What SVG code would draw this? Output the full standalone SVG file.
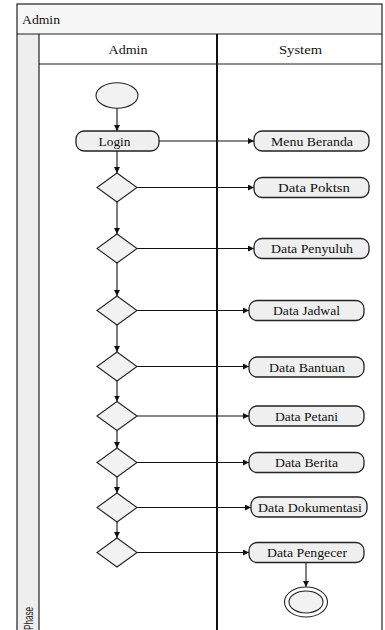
<svg xmlns="http://www.w3.org/2000/svg" width="385" height="630" viewBox="0 0 385 630">
<defs>
<style>
.frame{fill:none;stroke:#222;stroke-width:1.2}
.lbl{font-family:"Liberation Serif","Times New Roman",serif;font-size:12.5px;fill:#111;text-anchor:middle}
.hdr{font-family:"Liberation Serif","Times New Roman",serif;font-size:12px;fill:#111}
.act{fill:#efefef;stroke:#222;stroke-width:1.3}
.dec{fill:#f2f2f2;stroke:#222;stroke-width:1.1}
.con{fill:none;stroke:#111;stroke-width:1.1;marker-end:url(#ah)}
</style>
<marker id="ah" viewBox="0 0 10 10" refX="10" refY="5" markerWidth="6" markerHeight="6" markerUnits="userSpaceOnUse" orient="auto">
<path d="M0,0 L10,5 L0,10 z" fill="#111"/>
</marker>
</defs>
<rect width="385" height="630" fill="#fff"/>
<g id="pool">
<rect x="17" y="4" width="365" height="30" fill="#f7f7f7"/>
<rect x="17" y="34" width="22" height="600" fill="#eeeeee"/>
<rect x="17" y="4" width="365" height="630" class="frame"/>
<line x1="17" y1="34" x2="382" y2="34" class="frame"/>
<line x1="39" y1="34" x2="39" y2="630" class="frame"/>
<line x1="39" y1="64" x2="382" y2="64" class="frame"/>
<line x1="217" y1="34" x2="217" y2="630" stroke="#111" stroke-width="2"/>
<text x="22" y="24" class="hdr" textLength="38" lengthAdjust="spacingAndGlyphs">Admin</text>
<text x="108.5" y="53.5" class="hdr" textLength="39" lengthAdjust="spacingAndGlyphs">Admin</text>
<text x="279" y="53.5" class="hdr" textLength="43" lengthAdjust="spacingAndGlyphs">System</text>
<text transform="translate(32.5,630) rotate(-90)" font-family="Liberation Sans, sans-serif" font-size="13" fill="#222" textLength="23" lengthAdjust="spacingAndGlyphs">Phase</text>
</g>
<g id="connectors">
<line x1="117" y1="108" x2="117" y2="131" class="con"/>
<line x1="117" y1="151" x2="117" y2="173" class="con"/>
<line x1="117" y1="202" x2="117" y2="234" class="con"/>
<line x1="117" y1="263" x2="117" y2="296" class="con"/>
<line x1="117" y1="325" x2="117" y2="352" class="con"/>
<line x1="117" y1="381" x2="117" y2="401.5" class="con"/>
<line x1="117" y1="430.5" x2="117" y2="448" class="con"/>
<line x1="117" y1="477" x2="117" y2="493" class="con"/>
<line x1="117" y1="522" x2="117" y2="538" class="con"/>
<line x1="159" y1="141" x2="254" y2="141" class="con"/>
<line x1="137" y1="187.5" x2="254" y2="187.5" class="con"/>
<line x1="137" y1="248.5" x2="254" y2="248.5" class="con"/>
<line x1="137" y1="310.5" x2="249" y2="310.5" class="con"/>
<line x1="137" y1="366.5" x2="249" y2="366.5" class="con"/>
<line x1="137" y1="416" x2="249" y2="416" class="con"/>
<line x1="137" y1="462.5" x2="249" y2="462.5" class="con"/>
<line x1="137" y1="507.5" x2="251" y2="507.5" class="con"/>
<line x1="137" y1="552.5" x2="249" y2="552.5" class="con"/>
<line x1="306" y1="562.5" x2="306" y2="587" class="con"/>
</g>
<g id="start"><ellipse cx="117" cy="95.5" rx="21" ry="12.8" fill="#f2f2f2" stroke="#222" stroke-width="1.1"/></g>
<g id="login"><rect x="76" y="131" width="83" height="20" rx="8" class="act"/><text x="114.5" y="145.5" class="lbl" textLength="32" lengthAdjust="spacingAndGlyphs">Login</text></g>
<g id="menu-beranda"><rect x="254" y="131" width="115" height="20" rx="8" class="act"/><text x="312" y="145.5" class="lbl" textLength="82" lengthAdjust="spacingAndGlyphs">Menu Beranda</text></g>
<g id="d1"><polygon points="117,173 137,187.5 117,202 97,187.5" class="dec"/></g>
<g id="data-poktsn"><rect x="254" y="177.5" width="115" height="20" rx="8" class="act"/><text x="314" y="192" class="lbl" textLength="72" lengthAdjust="spacingAndGlyphs">Data Poktsn</text></g>
<g id="d2"><polygon points="117,234 137,248.5 117,263 97,248.5" class="dec"/></g>
<g id="data-penyuluh"><rect x="254" y="238.5" width="115" height="20" rx="8" class="act"/><text x="312" y="253" class="lbl" textLength="82" lengthAdjust="spacingAndGlyphs">Data Penyuluh</text></g>
<g id="d3"><polygon points="117,296 137,310.5 117,325 97,310.5" class="dec"/></g>
<g id="data-jadwal"><rect x="249" y="300.5" width="115" height="20" rx="8" class="act"/><text x="306.5" y="315" class="lbl" textLength="67" lengthAdjust="spacingAndGlyphs">Data Jadwal</text></g>
<g id="d4"><polygon points="117,352 137,366.5 117,381 97,366.5" class="dec"/></g>
<g id="data-bantuan"><rect x="249" y="357" width="115" height="20" rx="8" class="act"/><text x="307" y="371.5" class="lbl" textLength="76" lengthAdjust="spacingAndGlyphs">Data Bantuan</text></g>
<g id="d5"><polygon points="117,401.5 137,416 117,430.5 97,416" class="dec"/></g>
<g id="data-petani"><rect x="249" y="406" width="115" height="20" rx="8" class="act"/><text x="306.5" y="420.5" class="lbl" textLength="63" lengthAdjust="spacingAndGlyphs">Data Petani</text></g>
<g id="d6"><polygon points="117,448 137,462.5 117,477 97,462.5" class="dec"/></g>
<g id="data-berita"><rect x="249" y="452.5" width="115" height="20" rx="8" class="act"/><text x="306.5" y="467" class="lbl" textLength="63" lengthAdjust="spacingAndGlyphs">Data Berita</text></g>
<g id="d7"><polygon points="117,493 137,507.5 117,522 97,507.5" class="dec"/></g>
<g id="data-dokumentasi"><rect x="251" y="497" width="116" height="20" rx="8" class="act"/><text x="310" y="511.5" class="lbl" textLength="104" lengthAdjust="spacingAndGlyphs">Data Dokumentasi</text></g>
<g id="d8"><polygon points="117,538 137,552.5 117,567 97,552.5" class="dec"/></g>
<g id="data-pengecer"><rect x="249" y="542.5" width="115" height="20" rx="8" class="act"/><text x="307" y="557" class="lbl" textLength="80" lengthAdjust="spacingAndGlyphs">Data Pengecer</text></g>
<g id="end"><ellipse cx="306" cy="602" rx="21.5" ry="15" fill="#fff" stroke="#222" stroke-width="1.1"/><ellipse cx="306" cy="602" rx="17" ry="11" fill="#f2f2f2" stroke="#222" stroke-width="1.1"/></g>
</svg>
